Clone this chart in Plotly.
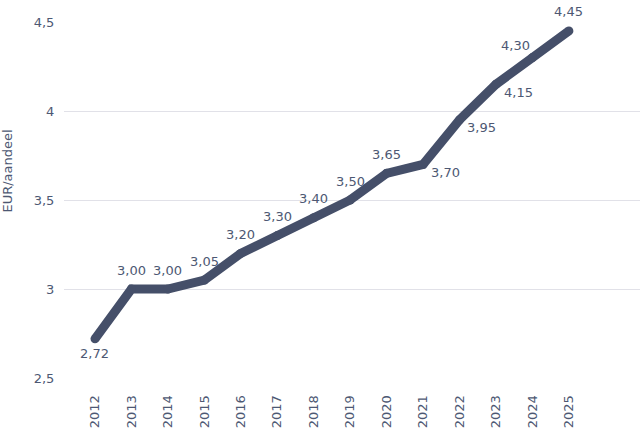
import plotly.graph_objects as go

years = [2012, 2013, 2014, 2015, 2016, 2017, 2018, 2019, 2020, 2021, 2022, 2023, 2024, 2025]
values = [2.72, 3.00, 3.00, 3.05, 3.20, 3.30, 3.40, 3.50, 3.65, 3.70, 3.95, 4.15, 4.30, 4.45]
labels = ["2,72", "3,00", "3,00", "3,05", "3,20", "3,30", "3,40", "3,50", "3,65", "3,70", "3,95", "4,15", "4,30", "4,45"]
placements = ["below"] + ["above"] * 8 + ["below-right"] * 3 + ["above-left", "above"]
y_ticks = [2.5, 3, 3.5, 4, 4.5]
y_tick_text = ["2,5", "3", "3,5", "4", "4,5"]
y_title = "EUR/aandeel"

shifts = {
    "above": (0, 19),
    "below": (0, -15),
    "below-right": (22, -8),
    "above-left": (-17, 12),
}

text_color = "#4d5873"
line_color = "#454f69"
font_family = "DejaVu Sans"

fig = go.Figure(go.Scatter(
    x=years, y=values, mode="lines+markers",
    line=dict(color=line_color, width=9),
    marker=dict(color=line_color, size=9, line=dict(width=0)),
    hoverinfo="skip",
))

for x, y, t, p in zip(years, values, labels, placements):
    dx, dy = shifts[p]
    fig.add_annotation(
        x=x, y=y, text=t, showarrow=False, xshift=dx, yshift=dy,
        font=dict(family=font_family, size=13, color=text_color),
    )

# y-axis title as a rotated annotation
fig.add_annotation(
    xref="paper", yref="paper", x=-56 / 576, y=0.58, text=y_title,
    textangle=-90, showarrow=False, xanchor="center", yanchor="middle",
    font=dict(family=font_family, size=13, color=text_color),
)

fig.update_layout(
    width=640, height=442,
    margin=dict(l=64, r=0, t=22, b=64),
    plot_bgcolor="white", paper_bgcolor="white",
    showlegend=False,
    separators=",.",
    font=dict(family=font_family, color=text_color, size=13),
    xaxis=dict(
        range=[2011.15, 2026.95], tickvals=years, ticktext=[str(y) for y in years],
        tickangle=-90, showgrid=False, zeroline=False, showline=False,
        ticks="outside", ticklen=11, tickcolor="rgba(0,0,0,0)",
        tickfont=dict(family=font_family, size=13, color=text_color),
    ),
    yaxis=dict(
        range=[2.5, 4.5], tickvals=y_ticks, ticktext=y_tick_text,
        showgrid=True, gridcolor="#e1e1e8", gridwidth=1, zeroline=False, showline=False,
        ticks="outside", ticklen=6, tickcolor="rgba(0,0,0,0)",
        tickfont=dict(family=font_family, size=13, color=text_color),
    ),
)

fig.write_html("out.html")
